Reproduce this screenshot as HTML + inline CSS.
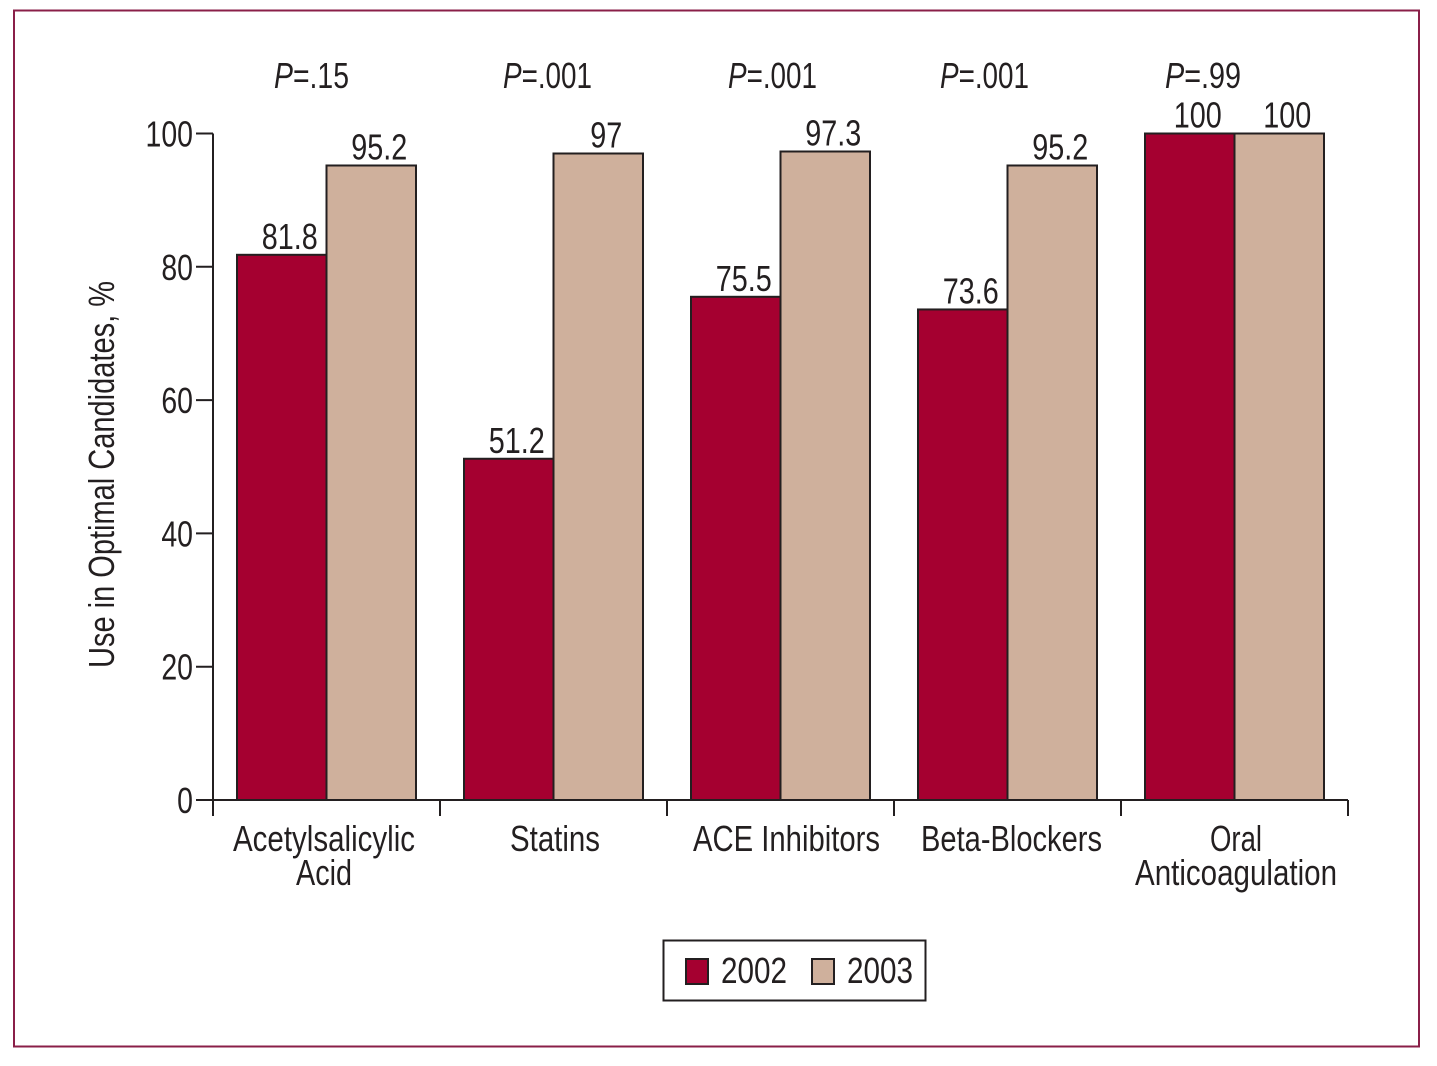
<!DOCTYPE html>
<html lang="en">
<head>
<meta charset="utf-8">
<title>Use in Optimal Candidates, 2002 vs 2003</title>
<style>
html,body{margin:0;padding:0;background:#fff;}
svg{display:block;}
text{font-family:"Liberation Sans",Arial,sans-serif;fill:#231f20;font-size:36px;}
</style>
</head>
<body>
<svg id="chart" xmlns="http://www.w3.org/2000/svg" width="1437" height="1066" viewBox="0 0 1437 1066">
  <rect x="14" y="10.5" width="1405" height="1036" fill="#fff" stroke="#8a1f48" stroke-width="2"/>
  <g id="marks"></g>
  <g>
    <text x="274" y="88" textLength="75" lengthAdjust="spacingAndGlyphs"><tspan font-style="italic">P</tspan>=.15</text>
    <text x="503" y="88" textLength="89" lengthAdjust="spacingAndGlyphs"><tspan font-style="italic">P</tspan>=.001</text>
    <text x="728" y="88" textLength="89" lengthAdjust="spacingAndGlyphs"><tspan font-style="italic">P</tspan>=.001</text>
    <text x="940" y="88" textLength="89" lengthAdjust="spacingAndGlyphs"><tspan font-style="italic">P</tspan>=.001</text>
    <text x="1165" y="88" textLength="76" lengthAdjust="spacingAndGlyphs"><tspan font-style="italic">P</tspan>=.99</text>
  </g>
  <g>
    <text x="233" y="851" textLength="182" lengthAdjust="spacingAndGlyphs">Acetylsalicylic</text>
    <text x="296" y="885" textLength="56" lengthAdjust="spacingAndGlyphs">Acid</text>
    <text x="510" y="851" textLength="90" lengthAdjust="spacingAndGlyphs">Statins</text>
    <text x="693" y="851" textLength="187" lengthAdjust="spacingAndGlyphs">ACE Inhibitors</text>
    <text x="921" y="851" textLength="181" lengthAdjust="spacingAndGlyphs">Beta-Blockers</text>
    <text x="1210" y="851" textLength="52" lengthAdjust="spacingAndGlyphs">Oral</text>
    <text x="1135" y="885" textLength="202" lengthAdjust="spacingAndGlyphs">Anticoagulation</text>
  </g>
  <text x="0" y="0" textLength="387" lengthAdjust="spacingAndGlyphs" transform="translate(114 668) rotate(-90)">Use in Optimal Candidates, %</text>
  <g>
    <rect x="663.5" y="940.5" width="262" height="60" fill="#fff" stroke="#231f20" stroke-width="2"/>
    <rect x="686" y="959" width="22" height="25" fill="#a50030" stroke="#231f20" stroke-width="2"/>
    <text x="721" y="983" textLength="66" lengthAdjust="spacingAndGlyphs">2002</text>
    <rect x="812" y="959" width="22" height="25" fill="#cfb09c" stroke="#231f20" stroke-width="2"/>
    <text x="847" y="983" textLength="66" lengthAdjust="spacingAndGlyphs">2003</text>
  </g>
</svg>
<script>
const categoryCount = 5;
const values2002 = [81.8, 51.2, 75.5, 73.6, 100];
const values2003 = [95.2, 97, 97.3, 95.2, 100];
const yTicks = [0, 20, 40, 60, 80, 100];

const NS = 'http://www.w3.org/2000/svg';
const INK = '#231f20';
const root = document.getElementById('marks');
const plotLeft = 213, plotRight = 1348, plotBottom = 800, plotTop = 133.5;
const yScale = v => plotBottom - (plotBottom - plotTop) * v / 100;
const bandWidth = (plotRight - plotLeft) / categoryCount;
const bandLeft = i => plotLeft + bandWidth * i;
const barInset = 24, barWidth = 89.5;

function make(tag, parent) {
  const el = document.createElementNS(NS, tag);
  parent.appendChild(el);
  return el;
}
function place(el, x, y, sx, anchor, str) {
  el.setAttribute('transform', 'translate(' + x + ' ' + y + ') scale(' + sx + ' 1)');
  el.setAttribute('text-anchor', anchor);
  el.textContent = str;
}
function stroke(el, x1, y1, x2, y2) {
  el.setAttribute('x1', x1);
  el.setAttribute('y1', y1);
  el.setAttribute('x2', x2);
  el.setAttribute('y2', y2);
  el.setAttribute('stroke', INK);
  el.setAttribute('stroke-width', '2');
}
function drawBar(series, i, value, left, fill) {
  const bar = make('rect', root);
  
  
  bar.setAttribute('x', left);
  bar.setAttribute('y', yScale(value));
  bar.setAttribute('width', barWidth);
  bar.setAttribute('height', plotBottom - yScale(value));
  bar.setAttribute('fill', fill);
  bar.setAttribute('stroke', INK);
  bar.setAttribute('stroke-width', '2');
  const label = make('text', root);
  
  
  place(label, left + barWidth / 2 + 8, yScale(value) - 6, 0.8, 'middle', String(value));
}

for (let i = 0; i < categoryCount; i++) {
  const left = bandLeft(i) + barInset;
  drawBar('2002', i, values2002[i], left, '#a50030');
  drawBar('2003', i, values2003[i], left + barWidth, '#cfb09c');
}

const yAxis = make('line', root);


stroke(yAxis, plotLeft, plotTop, plotLeft, plotBottom);

const xAxis = make('line', root);


stroke(xAxis, plotLeft, plotBottom, plotRight, plotBottom);

yTicks.forEach(v => {
  const tick = make('line', root);
  
  
  stroke(tick, plotLeft - 17, yScale(v), plotLeft, yScale(v));
  const label = make('text', root);
  
  
  place(label, plotLeft - 20, yScale(v) + 13, 0.79, 'end', String(v));
});

for (let i = 0; i <= categoryCount; i++) {
  const tick = make('line', root);
  
  
  stroke(tick, bandLeft(i), plotBottom, bandLeft(i), plotBottom + 16);
}
</script>
</body>
</html>
